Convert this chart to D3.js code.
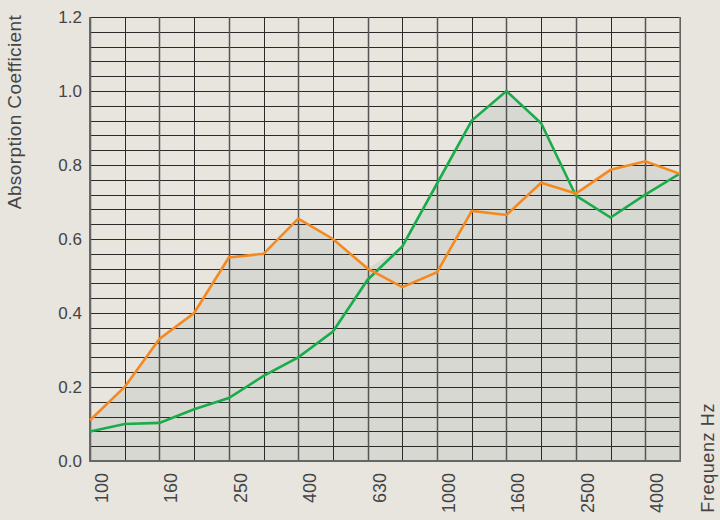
<!DOCTYPE html>
<html><head><meta charset="utf-8">
<script src="https://cdn.jsdelivr.net/npm/d3@7"></script>
<style>body{margin:0;background:#e8e5df;}svg{display:block;}</style>
</head><body>
<script>
const freqs = ["100","125","160","200","250","315","400","500","630","800","1000","1250","1600","2000","2500","3150","4000","5000"];
const tickLabels = ["100","160","250","400","630","1000","1600","2500","4000"];
const orange = [0.11,0.20,0.33,0.40,0.55,0.56,0.655,0.60,0.52,0.47,0.51,0.676,0.665,0.752,0.723,0.787,0.81,0.776];
const green  = [0.08,0.10,0.103,0.14,0.17,0.23,0.28,0.35,0.49,0.58,0.75,0.92,1.0,0.913,0.717,0.658,0.72,0.777];
const yTicks = [0,0.2,0.4,0.6,0.8,1.0,1.2];

const W=720,H=520, L=90,R=680,T=17,B=461;
const svg=d3.select("body").append("svg").attr("width",W).attr("height",H);
svg.append("rect").attr("width",W).attr("height",H).attr("fill","#e8e5df");
const x=d3.scalePoint().domain(freqs).range([L,R]);
const y=d3.scaleLinear().domain([0,1.2]).range([B,T]);

const area=d3.area().x((d,i)=>x(freqs[i])).y0(y(0)).y1(d=>y(d));
const envelope=orange.map((v,i)=>Math.max(v,green[i]));
svg.append("path").datum(envelope).attr("d",area).attr("fill","#d8d8d2");

// grid
const gy=d3.range(0,31).map(i=>i*0.04);
svg.append("g").selectAll("line").data(gy).join("line")
  .attr("x1",L).attr("x2",R).attr("y1",d=>Math.round(y(d))+0.5).attr("y2",d=>Math.round(y(d))+0.5)
  .attr("stroke","#2a2a2a").attr("stroke-width",1);
svg.append("g").selectAll("line").data(freqs).join("line")
  .attr("x1",d=>Math.round(x(d))+0.5).attr("x2",d=>Math.round(x(d))+0.5).attr("y1",T).attr("y2",B)
  .attr("stroke",d=>tickLabels.includes(d)?"#555":"#2a2a2a").attr("stroke-width",d=>tickLabels.includes(d)?1.5:1);
// frame
svg.append("line").attr("x1",L).attr("x2",L).attr("y1",T).attr("y2",B).attr("stroke","#666").attr("stroke-width",2);
svg.append("line").attr("x1",L-1).attr("x2",R+1).attr("y1",B).attr("y2",B).attr("stroke","#666").attr("stroke-width",2);
svg.append("line").attr("x1",R).attr("x2",R).attr("y1",T).attr("y2",B).attr("stroke","#777").attr("stroke-width",1.5);

const line=d3.line().x((d,i)=>x(freqs[i])).y(d=>y(d));
svg.append("path").datum(green).attr("d",line).attr("fill","none").attr("stroke","#1aab4b").attr("stroke-width",2.6);
svg.append("path").datum(orange).attr("d",line).attr("fill","none").attr("stroke","#f5891f").attr("stroke-width",2.6);

const font="Liberation Sans, Arial, sans-serif";
// y axis labels
svg.append("g").selectAll("text").data(yTicks).join("text")
  .attr("x",82).attr("y",d=>y(d)+6).attr("text-anchor","end")
  .attr("font-family",font).attr("font-size",17).attr("fill","#444")
  .text(d=>d.toFixed(1));
// x axis labels
svg.append("g").selectAll("text").data(tickLabels).join("text")
  .attr("transform",d=>`translate(${x(d)+18},473) rotate(-90)`).attr("text-anchor","end")
  .attr("font-family",font).attr("font-size",18).attr("fill","#444")
  .text(d=>d);
// titles
svg.append("text").attr("transform","translate(21,112) rotate(-90)").attr("text-anchor","middle")
  .attr("font-family",font).attr("font-size",19).attr("letter-spacing",0.4).attr("fill","#444").text("Absorption Coefficient");
svg.append("text").attr("transform","translate(714,403) rotate(-90)").attr("text-anchor","end")
  .attr("font-family",font).attr("font-size",18).attr("letter-spacing",0.6).attr("fill","#444").text("Frequenz Hz");
</script>
</body></html>
